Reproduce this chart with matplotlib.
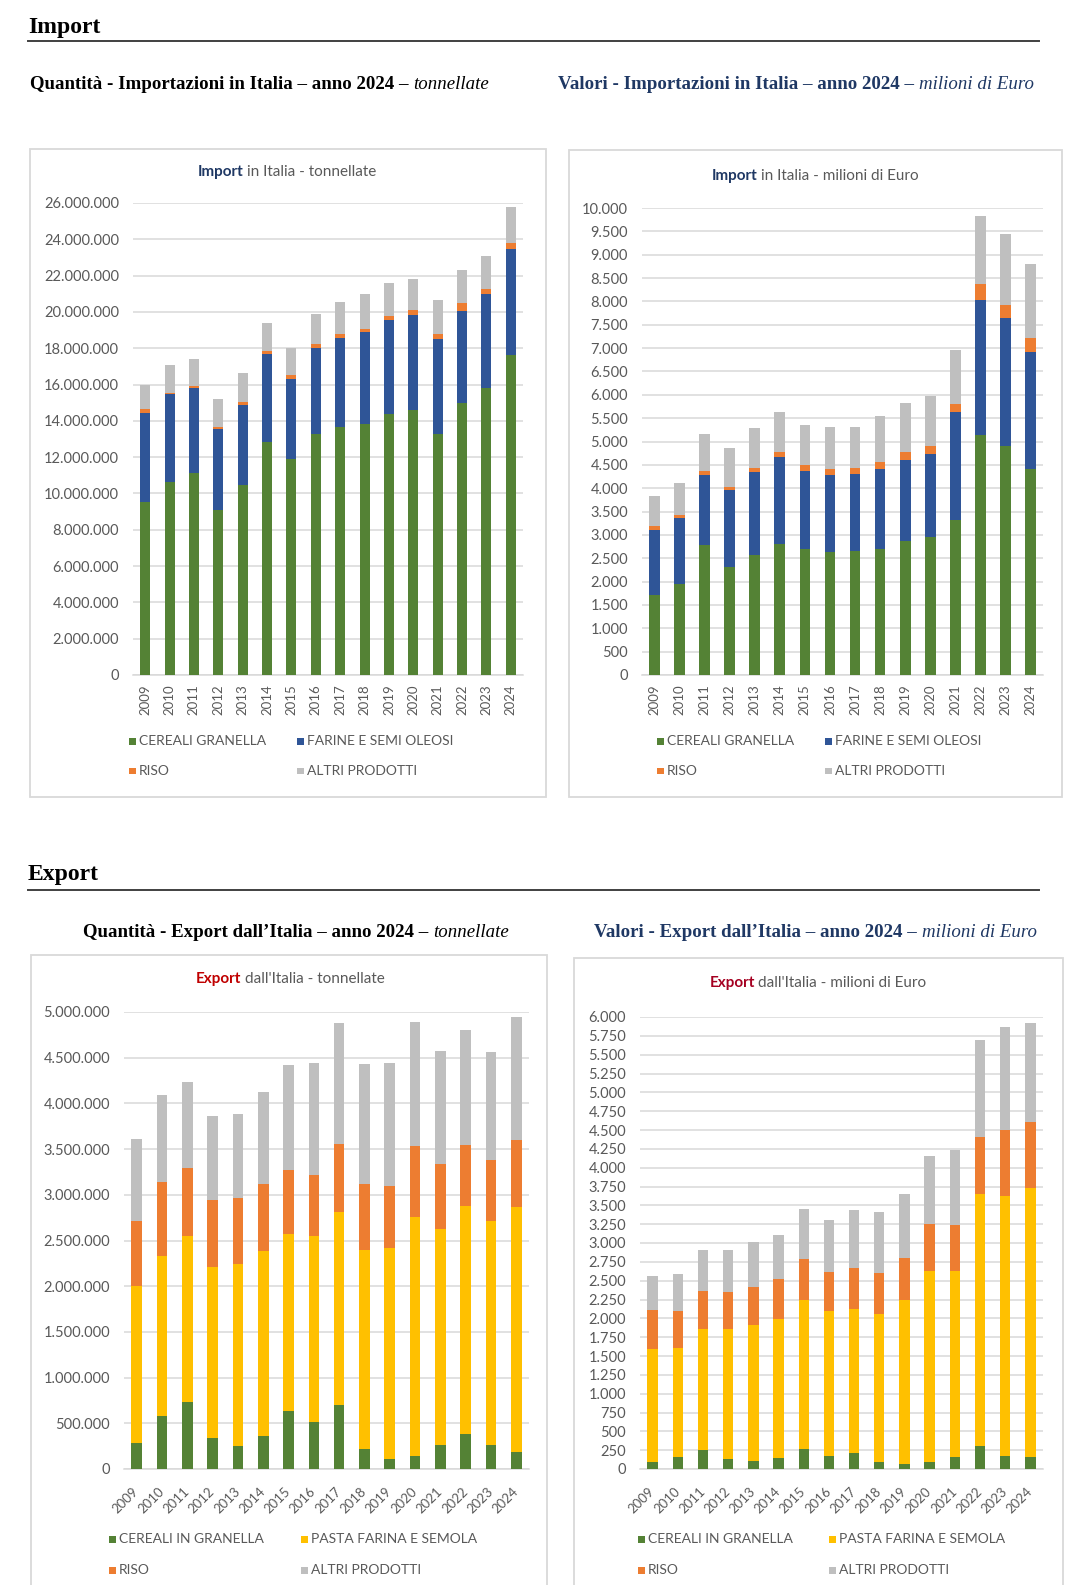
import matplotlib
matplotlib.use("Agg")
import matplotlib.pyplot as plt
from matplotlib.patches import Rectangle
from matplotlib.lines import Line2D
from matplotlib.ticker import FuncFormatter
import numpy as np

# ---------------- data ----------------
YEARS = [str(y) for y in range(2009, 2025)]

# Import - tonnellate
IMP_T_CEREALI = [9550000, 10650000, 11100000, 9080000, 10450000, 12850000, 11880000, 13260000,
                 13650000, 13830000, 14380000, 14600000, 13260000, 14970000, 15830000, 17640000]
IMP_T_FARINE = [4900000, 4830000, 4700000, 4460000, 4450000, 4850000, 4400000, 4750000,
                4890000, 5080000, 5180000, 5250000, 5270000, 5080000, 5170000, 5820000]
IMP_T_RISO = [200000, 80000, 100000, 110000, 120000, 120000, 270000, 230000,
              260000, 160000, 240000, 240000, 270000, 460000, 290000, 360000]
IMP_T_ALTRI = [1300000, 1500000, 1500000, 1530000, 1600000, 1550000, 1450000, 1620000,
               1720000, 1890000, 1780000, 1750000, 1840000, 1810000, 1770000, 1940000]

# Import - milioni di Euro
IMP_E_CEREALI = [1714, 1956, 2785, 2313, 2570, 2813, 2699, 2628, 2656, 2692, 2870, 2956, 3320, 5148, 4905, 4413]
IMP_E_FARINE = [1392, 1407, 1492, 1650, 1778, 1864, 1671, 1656, 1650, 1728, 1735, 1778, 2314, 2873, 2731, 2497]
IMP_E_RISO = [94, 71, 100, 71, 93, 100, 135, 129, 128, 142, 172, 171, 171, 341, 285, 299]
IMP_E_ALTRI = [630, 671, 778, 821, 844, 848, 840, 892, 881, 978, 1043, 1065, 1148, 1474, 1524, 1595]

# Export - tonnellate
EXP_T_CEREALI = [285000, 577000, 734000, 343000, 248000, 358000, 639000, 518000,
                 697000, 223000, 113000, 146000, 266000, 387000, 266000, 183000]
EXP_T_PASTA = [1715000, 1752000, 1813000, 1865000, 1997000, 2025000, 1934000, 2033000,
               2116000, 2172000, 2307000, 2612000, 2358000, 2493000, 2450000, 2686000]
EXP_T_RISO = [716000, 811000, 746000, 736000, 721000, 736000, 698000, 669000,
              742000, 724000, 677000, 772000, 713000, 664000, 661000, 726000]
EXP_T_ALTRI = [894000, 950000, 939000, 917000, 913000, 1011000, 1150000, 1220000,
               1321000, 1310000, 1343000, 1357000, 1237000, 1259000, 1183000, 1354000]

# Export - milioni di Euro
EXP_E_CEREALI = [89, 160, 252, 137, 111, 151, 270, 177, 217, 89, 71, 89, 160, 301, 177, 160]
EXP_E_PASTA = [1501, 1452, 1600, 1715, 1807, 1834, 1980, 1914, 1909, 1975, 2166, 2538, 2467, 3352, 3449, 3568]
EXP_E_RISO = [514, 479, 509, 491, 492, 531, 532, 523, 537, 532, 558, 628, 615, 756, 880, 875]
EXP_E_ALTRI = [452, 492, 541, 562, 602, 589, 668, 690, 773, 814, 854, 897, 999, 1282, 1357, 1313]

IMP_LABELS = ["CEREALI GRANELLA", "FARINE E SEMI OLEOSI", "RISO", "ALTRI PRODOTTI"]
EXP_LABELS = ["CEREALI IN GRANELLA", "PASTA FARINA E SEMOLA", "RISO", "ALTRI PRODOTTI"]

GREEN, BLUE, ORANGE, GREY, YELLOW = "#548235", "#2F5597", "#ED7D31", "#BFBFBF", "#FFC000"
IMP_COLORS = [GREEN, BLUE, ORANGE, GREY]
EXP_COLORS = [GREEN, YELLOW, ORANGE, GREY]

# ---------------- figure ----------------
W, H, DPI = 1071, 1585, 100
plt.rcParams['font.family'] = ['Lato', 'DejaVu Sans']
fig = plt.figure(figsize=(W / DPI, H / DPI), dpi=DPI)
fig.patch.set_facecolor('white')
renderer = fig.canvas.get_renderer()

SERIF = ['Liberation Serif', 'DejaVu Serif']
TXT = '#595959'
NAVY = '#1F3864'


def X(px):
    return px / W


def Y(py):
    return 1 - py / H


def text_width(s, **kw):
    t = fig.text(0, 0, s, **kw)
    w = t.get_window_extent(renderer).width
    t.remove()
    return w


def rich(x, y, segs, ha='left', va='baseline'):
    """segs: list of (text, kwargs, space_after)"""
    ws = []
    for s, kw, sp in segs:
        w = text_width(s, **kw)
        g = (text_width('a a', **kw) - text_width('aa', **kw)) if sp else 0
        ws.append((w, g))
    total = sum(w + g for w, g in ws)
    cur = x if ha == 'left' else (x - total / 2 if ha == 'center' else x - total)
    for (s, kw, sp), (w, g) in zip(segs, ws):
        fig.text(X(cur), Y(y), s, ha='left', va=va, **kw)
        cur += w + g


def box(l, t, r, b):
    fig.patches.append(Rectangle((X(l), Y(b)), X(r) - X(l), Y(t) - Y(b), transform=fig.transFigure,
                                 fill=False, edgecolor='#D9D9D9', lw=1.3, zorder=0))


def hline(x0, x1, y):
    fig.lines.append(Line2D([X(x0), X(x1)], [Y(y), Y(y)], transform=fig.transFigure,
                            color='#404040', lw=1.4))


def chart(ax_px, series, colors, ymax, ystep, rot, width=0.42):
    l, t, r, b = ax_px
    ax = fig.add_axes([X(l), Y(b), (r - l) / W, (b - t) / H])
    x = np.arange(len(YEARS))
    bottom = np.zeros(len(YEARS))
    for vals, c in zip(series, colors):
        vals = np.asarray(vals, dtype=float)
        ax.bar(x, vals, width, bottom=bottom, color=c, zorder=3, linewidth=0)
        bottom += vals
    ax.set_xlim(-0.5, len(YEARS) - 0.5)
    ax.set_ylim(0, ymax)
    ax.set_yticks(np.arange(0, ymax + ystep / 2, ystep))
    ax.yaxis.set_major_formatter(FuncFormatter(lambda v, p: f"{v:,.0f}".replace(',', '.')))
    ax.grid(axis='y', color='#D9D9D9', lw=1.1, zorder=0)
    for s in ['top', 'right', 'left']:
        ax.spines[s].set_visible(False)
    ax.spines['bottom'].set_color('#D9D9D9')
    ax.spines['bottom'].set_linewidth(1.1)
    ax.tick_params(axis='y', length=0, colors=TXT, labelsize=10.5, pad=10)
    ax.set_xticks(x)
    if rot == 90:
        ax.set_xticklabels(YEARS, rotation=90, ha='center', va='top')
        ax.tick_params(axis='x', length=0, colors=TXT, labelsize=9.5, pad=7)
    else:
        ax.set_xticklabels(YEARS, rotation=45, ha='right', va='center', rotation_mode='anchor')
        ax.tick_params(axis='x', length=0, colors=TXT, labelsize=9.5, pad=15)
    ax.set_facecolor('none')
    return ax


def legend(labels, colors, xs, ys):
    order = [(0, 0), (0, 1), (1, 0), (1, 1)]
    for (row, col), lab, c in zip(order, labels, colors):
        sx = xs[col]
        sy = ys[row]
        sq = 7
        fig.patches.append(Rectangle((X(sx), Y(sy + sq / 2)), sq / W, sq / H,
                                     transform=fig.transFigure, color=c, lw=0))
        fig.text(X(sx + 10), Y(sy), lab, ha='left', va='center', fontsize=10, color=TXT)


# ---------------- page headers ----------------
fig.text(X(28), Y(32.5), "Import", fontsize=17, fontweight='bold', family=SERIF, color='black')
hline(28, 1039, 40.5)
fig.text(X(28), Y(880), "Export", fontsize=17, fontweight='bold', family=SERIF, color='black')
hline(28, 1039, 890)

SUB = 13.6
rich(30, 89, [("Quantità - Importazioni in Italia – anno 2024 –", dict(fontsize=SUB, fontweight='bold', family=SERIF, color='black'), True),
              ("tonnellate", dict(fontsize=SUB, style='italic', family=SERIF, color='black'), False)])
rich(558, 89, [("Valori - Importazioni in Italia – anno 2024 –", dict(fontsize=SUB, fontweight='bold', family=SERIF, color=NAVY), True),
               ("milioni di Euro", dict(fontsize=SUB, style='italic', family=SERIF, color=NAVY), False)])
rich(83, 937, [("Quantità - Export dall’Italia – anno 2024 –", dict(fontsize=SUB, fontweight='bold', family=SERIF, color='black'), True),
               ("tonnellate", dict(fontsize=SUB, style='italic', family=SERIF, color='black'), False)])
rich(594, 937, [("Valori - Export dall’Italia – anno 2024 –", dict(fontsize=SUB, fontweight='bold', family=SERIF, color=NAVY), True),
                ("milioni di Euro", dict(fontsize=SUB, style='italic', family=SERIF, color=NAVY), False)])

# ---------------- chart boxes ----------------
box(30, 149, 546, 797)
box(569, 150, 1062, 797)
box(31, 955, 547, 1600)
box(574, 958, 1063, 1600)

TS = 11
# ---------------- chart 1 ----------------
chart((133, 203, 523, 675), [IMP_T_CEREALI, IMP_T_FARINE, IMP_T_RISO, IMP_T_ALTRI], IMP_COLORS,
      26000000, 2000000, 90, width=0.41)
rich(287, 172, [("Import", dict(fontsize=TS, fontweight='bold', color=NAVY), True),
                ("in Italia - tonnellate", dict(fontsize=TS, color=TXT), False)], ha='center', va='center')
legend(IMP_LABELS, IMP_COLORS, [129, 297], [741, 771])

# ---------------- chart 2 ----------------
chart((642, 208, 1043, 675), [IMP_E_CEREALI, IMP_E_FARINE, IMP_E_RISO, IMP_E_ALTRI], IMP_COLORS,
      10000, 500, 90, width=0.43)
rich(815, 176, [("Import", dict(fontsize=TS, fontweight='bold', color=NAVY), True),
                ("in Italia - milioni di Euro", dict(fontsize=TS, color=TXT), False)], ha='center', va='center')
legend(IMP_LABELS, IMP_COLORS, [657, 825], [741, 771])

# ---------------- chart 3 ----------------
chart((124, 1012, 529, 1469), [EXP_T_CEREALI, EXP_T_PASTA, EXP_T_RISO, EXP_T_ALTRI], EXP_COLORS,
      5000000, 500000, 45, width=0.42)
rich(290, 979, [("Export", dict(fontsize=TS, fontweight='bold', color='#C00000'), True),
                ("dall'Italia - tonnellate", dict(fontsize=TS, color=TXT), False)], ha='center', va='center')
legend(EXP_LABELS, EXP_COLORS, [109, 301], [1539, 1570])

# ---------------- chart 4 ----------------
chart((640, 1017, 1043, 1469), [EXP_E_CEREALI, EXP_E_PASTA, EXP_E_RISO, EXP_E_ALTRI], EXP_COLORS,
      6000, 250, 45, width=0.41)
rich(818, 983, [("Export", dict(fontsize=TS, fontweight='bold', color='#A50021'), True),
                ("dall'Italia - milioni di Euro", dict(fontsize=TS, color=TXT), False)], ha='center', va='center')
legend(EXP_LABELS, EXP_COLORS, [638, 829], [1539, 1570])

fig.savefig("out.png", dpi=DPI, facecolor='white')
